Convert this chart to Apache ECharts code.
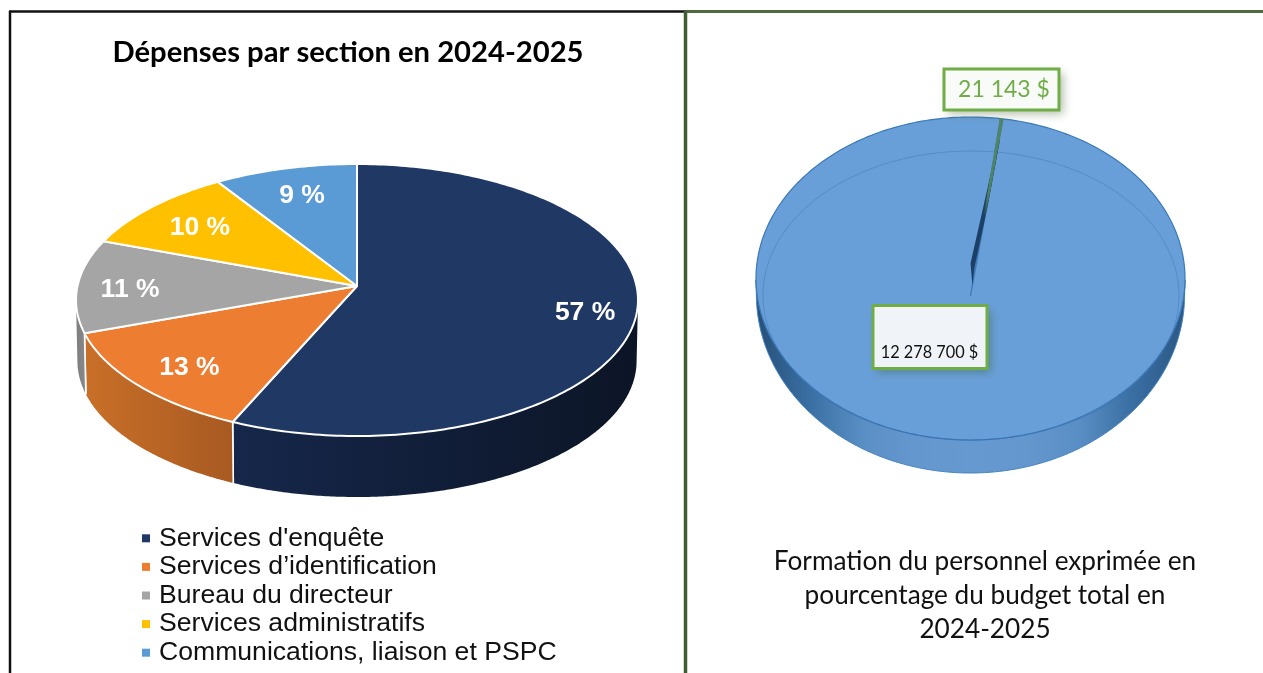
<!DOCTYPE html>
<html><head><meta charset="utf-8">
<style>html,body{margin:0;padding:0;background:#fff}#c{width:1263px;height:673px}</style>
<script src="https://cdn.jsdelivr.net/npm/echarts@6/dist/echarts.min.js"></script>
</head><body><div id="c"></div>
<script>
// ---- data ----
const sectionNames = ["Services d'enquête", "Services d’identification", "Bureau du directeur", "Services administratifs", "Communications, liaison et PSPC"];
const sectionShares = [56.6, 12.9, 11.1, 10.3, 9.1];
const sectionColors = ['#1f3864', '#ed7d31', '#a5a5a5', '#ffc000', '#5b9bd5'];
const budgetNames = ['Formation du personnel', 'Autres dépenses'];
const budgetValues = [21143, 12278700];
const budgetLabels = ['21 143 $', '12 278 700 $'];
const titleLeft = 'Dépenses par section en 2024-2025';
const captionRight = 'Formation du personnel exprimée en\npourcentage du budget total en\n2024-2025';

// ---- layout / style ----
const wallStyles = [
  ['#16274b', '#0c1526'], ['#c96f28', '#a85a22'], ['#7d7d7d', '#8a8a8a'], ['#b58a00', '#b58a00'], ['#41719c', '#41719c']
];
const labelDepth = [0.83, 0.78, 0.83, 0.75, 0.75];
const labelNudge = [[-3, 3], [1, 6], [5, 4], [-1, 2], [0, 0]];
const leftPie = {cx: 357, cy: 300, rx: 281, ry: 136, tilt: -0.103, lowCy: 361, lowRy: 136, k: 0.995, start: 0};
const rightPie = {cx: 970.5, cy: 278.5, rx: 214.5, ry: 161.5, tilt: 0.108, lowCy: 295, lowRy: 178, k: 0.998, start: 7.2};

function proj(p, f, deg) {
  const t = deg * Math.PI / 180, u = f * Math.sin(t), v = -f * Math.cos(t), a = p.tilt;
  const d = 1 + a * v;
  return [p.cx + p.rx * u * Math.sqrt(1 - a * a) / d, p.cy + p.ry * (v + a) / d];
}
function sectorPts(p, a0, a1) {
  const pts = [proj(p, 0, 0)];
  const n = Math.max(2, Math.ceil(a1 - a0));
  for (let i = 0; i <= n; i++) pts.push(proj(p, 1, a0 + (a1 - a0) * i / n));
  return pts;
}
function lowPt(p, q) {
  return [p.cx + (q[0] - p.cx) * p.k, p.lowCy + p.lowRy * (q[1] - p.cy) / p.ry];
}
function wallPts(p, a0, a1) {
  const top = [], n = Math.max(2, Math.ceil((a1 - a0) * 2));
  for (let i = 0; i <= n; i++) {
    const q = proj(p, 1, a0 + (a1 - a0) * i / n);
    if (q[1] >= p.cy) top.push(q);
  }
  if (top.length < 2) return null;
  const low = top.map(q => lowPt(p, q)).reverse();
  return {pts: top.concat(low)};
}
function hGrad(stops) {
  return {type: 'linear', x: 0, y: 0, x2: 1, y2: 0,
    colorStops: stops.map((c, i) => ({offset: i / (stops.length - 1), color: c}))};
}
const total = sectionShares.reduce((s, v) => s + v, 0);
const FONT_AR = '"Liberation Sans", Arial, sans-serif';
const FONT_CAL = 'Lato, "Open Sans", sans-serif';

const sectionSeries = sectionNames.map((name, idx) => ({
  name, type: 'custom', coordinateSystem: 'none', silent: true,
  itemStyle: {color: sectionColors[idx]},
  data: [[sectionShares[idx]]],
  z: 5 + idx,
  renderItem(params, api) {
    const v = api.value(0);
    const before = sectionShares.slice(0, idx).reduce((s, x) => s + x, 0);
    const a0 = before / total * 360, a1 = a0 + v / total * 360;
    const kids = [];
    const wall = wallPts(leftPie, a0, a1);
    if (wall) {
      kids.push({type: 'polygon', shape: {points: wall.pts}, style: {fill: hGrad(wallStyles[idx]), stroke: null}});
      [a0, a1].forEach(a => {
        const e = proj(leftPie, 1, a);
        if (e[1] >= leftPie.cy && a > 0.01) {
          const l = lowPt(leftPie, e);
          kids.push({type: 'line', shape: {x1: e[0], y1: e[1], x2: l[0], y2: l[1]}, style: {stroke: '#fff', lineWidth: 1.6}});
        }
      });
    }
    kids.push({type: 'polygon', shape: {points: sectorPts(leftPie, a0, a1)}, style: {fill: sectionColors[idx], stroke: '#fff', lineWidth: 2, lineJoin: 'round'}, z2: 20});
    const lp = proj(leftPie, labelDepth[idx], (a0 + a1) / 2);
    kids.push({type: 'text', x: lp[0] + labelNudge[idx][0], y: lp[1] + labelNudge[idx][1], z2: 30, style: {text: Math.round(v) + ' %', fill: '#fff', font: 'bold 26.5px ' + FONT_AR, textAlign: 'center', textVerticalAlign: 'middle'}});
    return {type: 'group', children: kids};
  }
}));

const budgetSeries = {
  name: 'Budget', type: 'custom', coordinateSystem: 'none', silent: true, z: 20,
  data: [budgetValues],
  renderItem(params, api) {
    const small = api.value(0), big = api.value(1), sum = small + big;
    const p = rightPie, s0 = p.start, s1 = s0 + small / sum * 360;
    const kids = [];
    const wall = wallPts(p, s1, s0 + 360);
    kids.push({type: 'polygon', shape: {points: wall.pts}, style: {
      fill: hGrad(['#264f78', '#3a6fa3', '#5a8fc5', '#6497cd', '#6699cf', '#6497cd', '#5a8fc5', '#3a6fa3', '#2b5884']), stroke: '#4382c0', lineWidth: 1}});
    kids.push({type: 'polygon', shape: {points: sectorPts(p, s1, s0 + 360)}, style: {fill: '#689fd8', stroke: '#3a78b8', lineWidth: 1.2}, z2: 10});
    // bevel line
    kids.push({type: 'ellipse', shape: {cx: p.cx + 0.5, cy: p.cy + 17, rx: p.rx - 6.5, ry: p.ry - 17}, style: {fill: null, stroke: 'rgba(60,110,170,0.4)', lineWidth: 1}, z2: 11});
    // sliver: from the value, apex to rim, with its dark inner side
    const apex = proj(p, 0, 0), mid = proj(p, 1, (s0 + s1) / 2);
    const at = (f, off) => [apex[0] + (mid[0] - apex[0]) * f + off, apex[1] + (mid[1] - apex[1]) * f];
    kids.push({type: 'polygon', shape: {points: [at(0.06, 0), at(0.184, -5.7), at(0.51, -2.8), at(0.83, 0), at(0.888, 2), at(0.51, 1.4), at(0.162, -1)]}, style: {fill: '#1c3f66', stroke: null}, z2: 12});
    const sliverFill = {type: 'linear', x: 0, y: 0, x2: 0, y2: 1, colorStops: [{offset: 0, color: '#4f8562'}, {offset: 0.42, color: '#4f8562'}, {offset: 0.55, color: 'rgba(79,133,98,0)'}, {offset: 1, color: 'rgba(79,133,98,0)'}]};
    kids.push({type: 'polygon', shape: {points: sectorPts(p, s0, s1)}, style: {fill: sliverFill, stroke: sliverFill, lineWidth: 1}, z2: 13});
    // callouts
    const shadow = (fill) => ({fill, stroke: null, shadowBlur: 9, shadowOffsetX: 4, shadowOffsetY: 4, shadowColor: 'rgba(60,90,40,0.4)'});
    const border = {fill: null, stroke: '#70ad47', lineWidth: 3};
    const box1 = {x: 944, y: 69, width: 115, height: 41}, box2 = {x: 873, y: 305.5, width: 114, height: 63};
    kids.push({type: 'rect', shape: box1, style: shadow('#f9fbf8'), z2: 20});
    kids.push({type: 'rect', shape: box1, style: border, z2: 21});
    kids.push({type: 'text', x: 1004, y: 90, z2: 22, style: {text: budgetLabels[0], fill: '#70ad47', font: '23px ' + FONT_CAL, textAlign: 'center', textVerticalAlign: 'middle'}});
    kids.push({type: 'rect', shape: box2, style: shadow('#f0f3f7'), z2: 20});
    kids.push({type: 'rect', shape: box2, style: border, z2: 21});
    kids.push({type: 'text', x: 929.5, y: 353, z2: 22, style: {text: budgetLabels[1], fill: '#111', font: '16.3px ' + FONT_CAL, textAlign: 'center', textVerticalAlign: 'middle'}});
    return {type: 'group', children: kids};
  }
};

const frameLine = (x1, y1, x2, y2, stroke, lineWidth) => ({type: 'line', shape: {x1, y1, x2, y2}, style: {stroke, lineWidth}, silent: true});

const chart = echarts.init(document.getElementById('c'), null, {renderer: 'canvas'});
chart.setOption({
  animation: false,
  backgroundColor: '#fff',
  title: [
    {text: titleLeft, left: 343, top: 33, textAlign: 'center', textStyle: {fontFamily: FONT_CAL, fontWeight: 'bold', fontSize: 29.2, color: '#000'}},
    {text: captionRight, left: 980, top: 540, textAlign: 'center', textStyle: {fontFamily: FONT_CAL, fontWeight: 'normal', fontSize: 26.2, lineHeight: 34, color: '#111'}}
  ],
  legend: {
    data: sectionNames, orient: 'vertical', left: 142, top: 524, itemWidth: 8, itemHeight: 8, itemGap: 0, icon: 'rect',
    selectedMode: false, padding: 0,
    textStyle: {fontFamily: FONT_AR, fontSize: 26.6, color: '#111', lineHeight: 28.6, padding: [0, 0, 0, 4]}
  },
  graphic: [
    frameLine(10, 11, 10, 673, '#111', 2.5),
    frameLine(9, 11.5, 686, 11.5, '#111', 2.5),
    frameLine(686, 11.5, 1263, 11.5, '#4e6b3f', 3),
    frameLine(685.5, 11, 685.5, 673, '#3f5f30', 3.5)
  ],
  series: [...sectionSeries, budgetSeries]
});
</script></body></html>
